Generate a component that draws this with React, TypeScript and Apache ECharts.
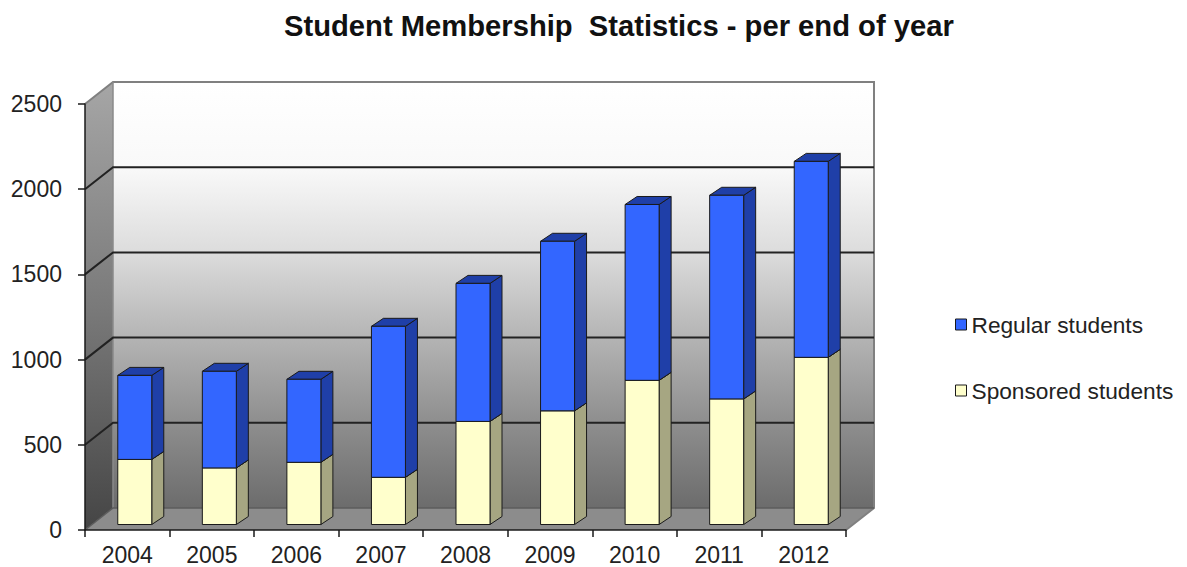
import React, { useEffect, useRef } from "react";
import * as echarts from "echarts";

const years = ["2004", "2005", "2006", "2007", "2008", "2009", "2010", "2011", "2012"];
const sponsored = [382, 332, 365, 277, 605, 667, 846, 737, 981];
const regular = [493, 567, 487, 886, 810, 995, 1032, 1195, 1150];
const gridValues = [500, 1000, 1500, 2000];

const WALL_DX = 28;
const WALL_DY = 22;
const BAR_DX = 7.5;
const BAR_DY = 5.5;
const BAR_W = 34;
const DEPTH_DX = 12;
const DEPTH_DY = 8;
const FONT = '"Liberation Sans", Arial, sans-serif';
const LINE = "#1a1a1a";

const grad = (stops: [number, string][]) =>
  new echarts.graphic.LinearGradient(0, 0, 0, 1, stops.map(([offset, color]) => ({ offset, color })));

function poly(points: number[][], fill: any, stroke?: string, lineWidth = 1) {
  return {
    type: "polygon",
    shape: { points },
    style: { fill, stroke: stroke || "none", lineWidth },
    silent: true,
  };
}

function wallsItem(_: any, api: any) {
  const half = api.size([1, 0])[0] / 2;
  const x0 = api.coord([0, 0])[0] - half;
  const x1 = api.coord([years.length - 1, 0])[0] + half;
  const yb = api.coord([0, 0])[1];
  const yt = api.coord([0, 2500])[1];
  return {
    type: "group",
    children: [
      poly(
        [[x0 + WALL_DX, yt - WALL_DY], [x1 + WALL_DX, yt - WALL_DY], [x1 + WALL_DX, yb - WALL_DY], [x0 + WALL_DX, yb - WALL_DY]],
        grad([[0, "#ffffff"], [0.2, "#f9f9f9"], [0.4, "#dcdcdc"], [0.6, "#b4b4b4"], [0.8, "#8e8e8e"], [1, "#6c6c6c"]]),
      ),
      poly(
        [[x0, yt], [x0 + WALL_DX, yt - WALL_DY], [x0 + WALL_DX, yb - WALL_DY], [x0, yb]],
        grad([[0, "#a6a6a6"], [0.5, "#7a7a7a"], [1, "#454545"]]),
      ),
      poly(
        [[x0, yb], [x1, yb], [x1 + WALL_DX, yb - WALL_DY], [x0 + WALL_DX, yb - WALL_DY]],
        "#8c8c8c",
      ),
      {
        type: "polyline",
        shape: { points: [[x0, yt], [x0 + WALL_DX, yt - WALL_DY], [x1 + WALL_DX, yt - WALL_DY], [x1 + WALL_DX, yb - WALL_DY], [x1, yb]] },
        style: { fill: "none", stroke: "#808080", lineWidth: 2 },
        silent: true,
      },
      {
        type: "line",
        shape: { x1: x0 + WALL_DX, y1: yt - WALL_DY, x2: x0 + WALL_DX, y2: yb - WALL_DY },
        style: { stroke: "#8a8a8a", lineWidth: 1.5 },
        silent: true,
      },
      {
        type: "polyline",
        shape: { points: [[x0, yb], [x0 + WALL_DX, yb - WALL_DY], [x1 + WALL_DX, yb - WALL_DY]] },
        style: { fill: "none", stroke: "#5c5c5c", lineWidth: 1.5 },
        silent: true,
      },
    ],
  };
}

function gridItem(params: any, api: any) {
  const half = api.size([1, 0])[0] / 2;
  const [cx, y] = api.coord([0, api.value(1)]);
  const x0 = cx - half;
  const x1 = api.coord([years.length - 1, 0])[0] + half;
  return {
    type: "polyline",
    shape: { points: [[x0, y], [x0 + WALL_DX, y - WALL_DY], [x1 + WALL_DX, y - WALL_DY]] },
    style: { fill: "none", stroke: "#222222", lineWidth: 2 },
    silent: true,
  };
}

function barItem(front: string, side: string) {
  return (_: any, api: any) => {
    const idx = api.value(0);
    const [cx, yBase] = api.coord([idx, api.value(1)]);
    const [, yTop] = api.coord([idx, api.value(2)]);
    const l = cx - BAR_W / 2 + BAR_DX;
    const r = l + BAR_W;
    const b = yBase - BAR_DY;
    const t = yTop - BAR_DY;
    return {
      type: "group",
      children: [
        poly([[r, t], [r + DEPTH_DX, t - DEPTH_DY], [r + DEPTH_DX, b - DEPTH_DY], [r, b]], side, LINE),
        poly([[l, t], [l + DEPTH_DX, t - DEPTH_DY], [r + DEPTH_DX, t - DEPTH_DY], [r, t]], side, LINE),
        poly([[l, t], [r, t], [r, b], [l, b]], front, LINE),
      ],
    };
  };
}

export default function App() {
  const ref = useRef<HTMLDivElement>(null);
  useEffect(() => {
    const chart = echarts.init(ref.current!, undefined, { renderer: "svg" });
    const axisLabel = { color: "#222222", fontSize: 23, fontFamily: FONT };
    chart.setOption({
      animation: false,
      backgroundColor: "#ffffff",
      title: {
        text: "Student Membership  Statistics - per end of year",
        left: 279,
        top: 6,
        textStyle: { color: "#111111", fontSize: 29.2, fontWeight: "bold", fontFamily: FONT },
      },
      legend: {
        orient: "vertical",
        left: 950,
        top: 308,
        itemWidth: 11,
        itemHeight: 11,
        itemGap: 43,
        selectedMode: false,
        textStyle: { color: "#222222", fontSize: 22.7, fontFamily: FONT },
        data: [
          { name: "Regular students", icon: "rect", itemStyle: { color: "#3366ff", borderColor: LINE, borderWidth: 1 } },
          { name: "Sponsored students", icon: "rect", itemStyle: { color: "#ffffcc", borderColor: LINE, borderWidth: 1 } },
        ],
      },
      grid: { left: 85, right: 341, top: 104, bottom: 37 },
      xAxis: {
        type: "category",
        data: years,
        boundaryGap: true,
        z: 5,
        axisLine: { lineStyle: { color: LINE, width: 1.5 } },
        axisTick: { show: true, length: 7, lineStyle: { color: LINE, width: 1.5 } },
        axisLabel: { ...axisLabel, margin: 13 },
      },
      yAxis: {
        type: "value",
        min: 0,
        max: 2500,
        interval: 500,
        z: 5,
        splitLine: { show: false },
        axisLine: { show: true, lineStyle: { color: LINE, width: 1.5 } },
        axisTick: { show: true, length: 7, lineStyle: { color: LINE, width: 1.5 } },
        axisLabel: { ...axisLabel, margin: 23, formatter: (v: number) => String(v) },
      },
      series: [
        {
          type: "custom",
          name: "walls",
          z: 1,
          clip: false,
          silent: true,
          renderItem: wallsItem,
          encode: { x: 0, y: 1 },
          data: [[0, 0]],
        },
        {
          type: "custom",
          name: "gridlines",
          z: 1,
          clip: false,
          silent: true,
          renderItem: gridItem,
          encode: { x: 0, y: 1 },
          data: gridValues.map((v) => [0, v]),
        },
        {
          type: "custom",
          name: "Sponsored students",
          z: 3,
          clip: false,
          itemStyle: { color: "#ffffcc" },
          renderItem: barItem("#ffffcc", "#a6a682"),
          encode: { x: 0, y: 2 },
          data: sponsored.map((v, i) => [i, 0, v]),
        },
        {
          type: "custom",
          name: "Regular students",
          z: 3,
          clip: false,
          itemStyle: { color: "#3366ff" },
          renderItem: barItem("#3366ff", "#1f3fa8"),
          encode: { x: 0, y: 2 },
          data: regular.map((v, i) => [i, sponsored[i], sponsored[i] + v]),
        },
      ],
    });
    return () => chart.dispose();
  }, []);
  return <div ref={ref} style={{ position: "fixed", left: 0, top: 0, width: 1187, height: 567 }} />;
}
